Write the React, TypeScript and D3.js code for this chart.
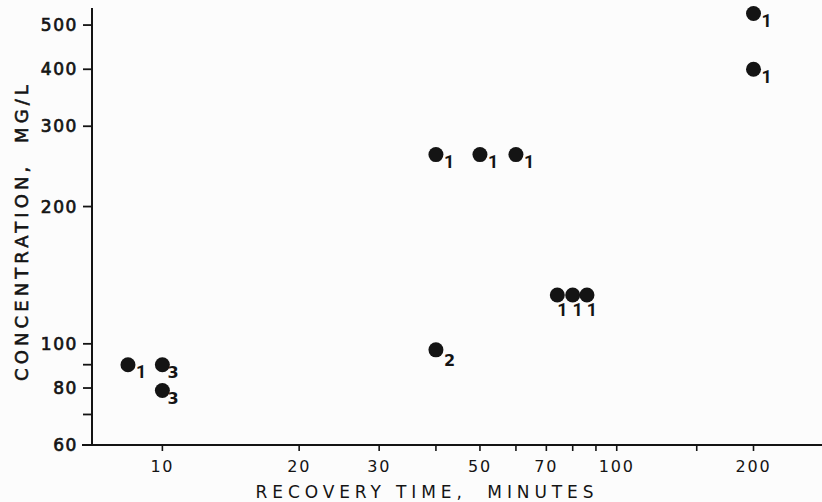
import React from "react";
import * as d3 from "d3";

// Recovery time (minutes) vs. concentration (mg/L), each point tagged with its count
const recoveryMinutes = [8.4, 10, 10, 40, 40, 50, 60, 74, 80, 86, 200, 200];
const concentrationMgL = [90, 90, 79, 97, 260, 260, 260, 128, 128, 128, 530, 400];
const pointCounts = ["1", "3", "3", "2", "1", "1", "1", "1", "1", "1", "1", "1"];
const labelPlacement = ["right", "right", "right", "right", "right", "right", "right", "below", "below", "below", "right", "right"];

const xTickValues = [10, 20, 30, 40, 50, 60, 70, 80, 90, 100, 150, 200];
const xTickLabels = [10, 20, 30, 50, 70, 100, 200];
const yTickValues = [60, 70, 80, 90, 100, 200, 300, 400, 500];
const yTickLabels = [60, 80, 100, 200, 300, 400, 500];

const W = 822;
const H = 502;
const ink = "#141414";
const font = "'DejaVu Sans', sans-serif";
const tagFont = "Roboto, 'Liberation Sans', sans-serif";

export default function App() {
  const x = d3.scaleLog().domain([7, 283]).range([92, 822]);
  const y = d3.scaleLog().domain([60, 545]).range([445, 8]);
  const x0 = x.range()[0];
  const y0 = y.range()[0];

  const points = recoveryMinutes.map((m, i) => ({
    cx: x(m),
    cy: y(concentrationMgL[i]),
    label: pointCounts[i],
    place: labelPlacement[i],
  }));

  // offset of each count tag from its point
  const tagPos = (p: { cx: number; cy: number; label: string; place: string }) => {
    if (p.place === "below") return { tx: p.cx + 5, ty: p.cy + 15, anchor: "middle" };
    if (p.label === "1") return { tx: p.cx + 8, ty: p.cy + 7, anchor: "start" };
    if (p.label === "2") return { tx: p.cx + 8, ty: p.cy + 10, anchor: "start" };
    return { tx: p.cx + 5, ty: p.cy + 8, anchor: "start" };
  };

  return (
    <svg
      width={W}
      height={H}
      viewBox={`0 0 ${W} ${H}`}
      style={{ position: "absolute", left: 0, top: 0, background: "#fcfcfc" }}
    >
      {/* axes */}
      <line x1={x0} x2={x0} y1={y.range()[1]} y2={y0} stroke={ink} strokeWidth={2} />
      <line x1={x0 - 10} x2={W} y1={y0} y2={y0} stroke={ink} strokeWidth={2} />

      {/* y ticks */}
      {yTickValues.map((v) => (
        <line key={`yt${v}`} x1={x0 - 9} x2={x0} y1={y(v)} y2={y(v)} stroke={ink} strokeWidth={1.8} />
      ))}
      {yTickLabels.map((v) => (
        <text
          key={`yl${v}`}
          x={x0 - 14}
          y={y(v)}
          dy="0.36em"
          textAnchor="end"
          fontFamily={font}
          fontSize={17}
          letterSpacing={1.6}
          fill={ink}
          stroke={ink}
          strokeWidth={0.7}
        >
          {v}
        </text>
      ))}

      {/* x ticks */}
      {xTickValues.map((v) => (
        <line key={`xt${v}`} x1={x(v)} x2={x(v)} y1={y0} y2={y0 + 6} stroke={ink} strokeWidth={1.6} />
      ))}
      {xTickLabels.map((v) => (
        <text
          key={`xl${v}`}
          x={x(v)}
          y={y0 + 21}
          dy="0.36em"
          textAnchor="middle"
          fontFamily={font}
          fontSize={16}
          letterSpacing={1.8}
          fill={ink}
        >
          {v}
        </text>
      ))}

      {/* axis titles */}
      <text
        x={427}
        y={492}
        dy="0.36em"
        textAnchor="middle"
        fontFamily={font}
        fontSize={17}
        letterSpacing={4.9}
        fill={ink}
        style={{ whiteSpace: "pre" }}
      >
        {"RECOVERY TIME,  MINUTES"}
      </text>
      <text
        transform="translate(22,231) rotate(-90)"
        dy="0.36em"
        textAnchor="middle"
        fontFamily={font}
        fontSize={18}
        letterSpacing={4.1}
        fill={ink}
        stroke={ink}
        strokeWidth={0.6}
        style={{ whiteSpace: "pre" }}
      >
        {"CONCENTRATION,  MG/L"}
      </text>

      {/* points with counts */}
      {points.map((p, i) => {
        const t = tagPos(p);
        const isOne = p.label === "1";
        return (
          <g key={`p${i}`}>
            <circle cx={p.cx} cy={p.cy} r={7.5} fill={ink} />
            <text
              x={t.tx}
              y={t.ty}
              dy="0.36em"
              textAnchor={t.anchor}
              fontFamily={isOne ? tagFont : font}
              fontWeight="bold"
              fontSize={isOne ? 18 : 16}
              fill={ink}
            >
              {p.label}
            </text>
          </g>
        );
      })}
    </svg>
  );
}
